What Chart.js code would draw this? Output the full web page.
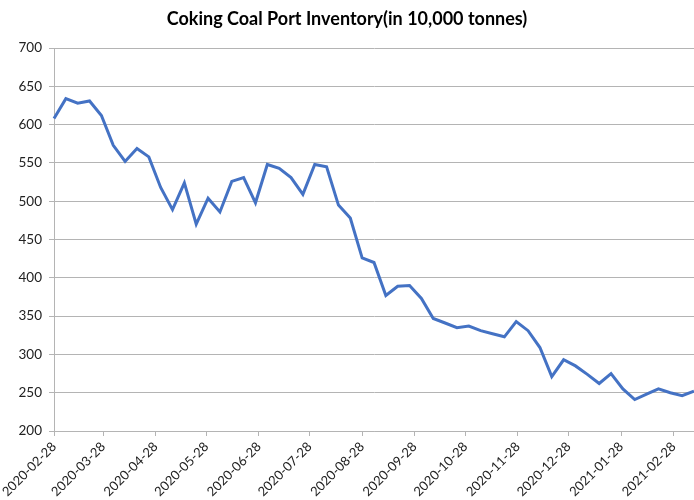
<!DOCTYPE html>
<html>
<head>
<meta charset="utf-8">
<script src="https://cdn.jsdelivr.net/npm/chart.js@4.4.1/dist/chart.umd.min.js"></script>
<style>
  body { margin: 0; background: #fff; }
</style>
</head>
<body>
<canvas id="inventory" width="694" height="500"></canvas>
<script>
const chartTitle = 'Coking Coal Port Inventory(in 10,000 tonnes)'
const startDate = '2020-02-28'
const tickLabels = ['2020-02-28', '2020-03-28', '2020-04-28', '2020-05-28', '2020-06-28', '2020-07-28',
  '2020-08-28', '2020-09-28', '2020-10-28', '2020-11-28', '2020-12-28', '2021-01-28', '2021-02-28']
// weekly readings, one every friday from startDate
const inventory = [608, 634, 628, 631, 612, 573, 552, 569, 558, 518,
  489, 524, 470, 504, 486, 526, 531, 498, 548, 543,
  531, 509, 548, 545, 495, 478, 426, 420, 377, 389,
  390, 373, 347, 341, 335, 337, 331, 327, 323, 343,
  331, 309, 271, 293, 285, 274, 262, 275, 255, 241,
  248, 255, 250, 246, 252]
const yTicks = { min: 200, max: 700, step: 50 }

const dayMs = 24 * 3600 * 1000
const daysFromStart = (d) => Math.round((Date.parse(d) - Date.parse(startDate)) / dayMs)
const tickDays = tickLabels.map(daysFromStart)
const points = inventory.map((v, i) => ({ x: i * 7, y: v }))

const font = 'Lato'
const gridColor = '#b4b4b4'

const ctx = document.querySelector('#inventory')
const inventoryChart = new Chart(ctx, {
  type: 'line',
  data: {
    datasets: [{
      label: 'Inventory',
      data: points,
      borderColor: '#4472C4',
      borderWidth: 3,
      pointRadius: 0,
      tension: 0,
      clip: false
    }]
  },
  options: {
    responsive: false,
    animation: false,
    layout: { padding: 0 },
    plugins: {
      legend: { display: false },
      tooltip: { enabled: false },
      title: {
        display: true,
        text: chartTitle,
        color: '#000',
        font: { family: font, size: 18, weight: 'bold' },
        padding: { top: 8.5, bottom: 18 }
      }
    },
    scales: {
      x: {
        type: 'linear',
        min: 0,
        max: (inventory.length - 1) * 7,
        afterBuildTicks: (scale) => { scale.ticks = tickDays.map(v => ({ value: v })) },
        afterFit: (scale) => { scale.height = 69 },
        grid: { drawOnChartArea: false, drawTicks: true, tickLength: 5, color: gridColor },
        border: { color: gridColor },
        ticks: {
          autoSkip: false,
          minRotation: 45,
          maxRotation: 45,
          padding: 3,
          color: '#222',
          font: { family: font, size: 13 },
          callback: (value) => tickLabels[tickDays.indexOf(value)]
        }
      },
      y: {
        min: yTicks.min,
        max: yTicks.max,
        afterFit: (scale) => { scale.width = 54 },
        grid: { color: gridColor, tickLength: 5 },
        border: { color: gridColor },
        ticks: {
          stepSize: yTicks.step,
          padding: 7,
          color: '#222',
          font: { family: font, size: 13.5 }
        }
      }
    }
  }
})
</script>
</body>
</html>
